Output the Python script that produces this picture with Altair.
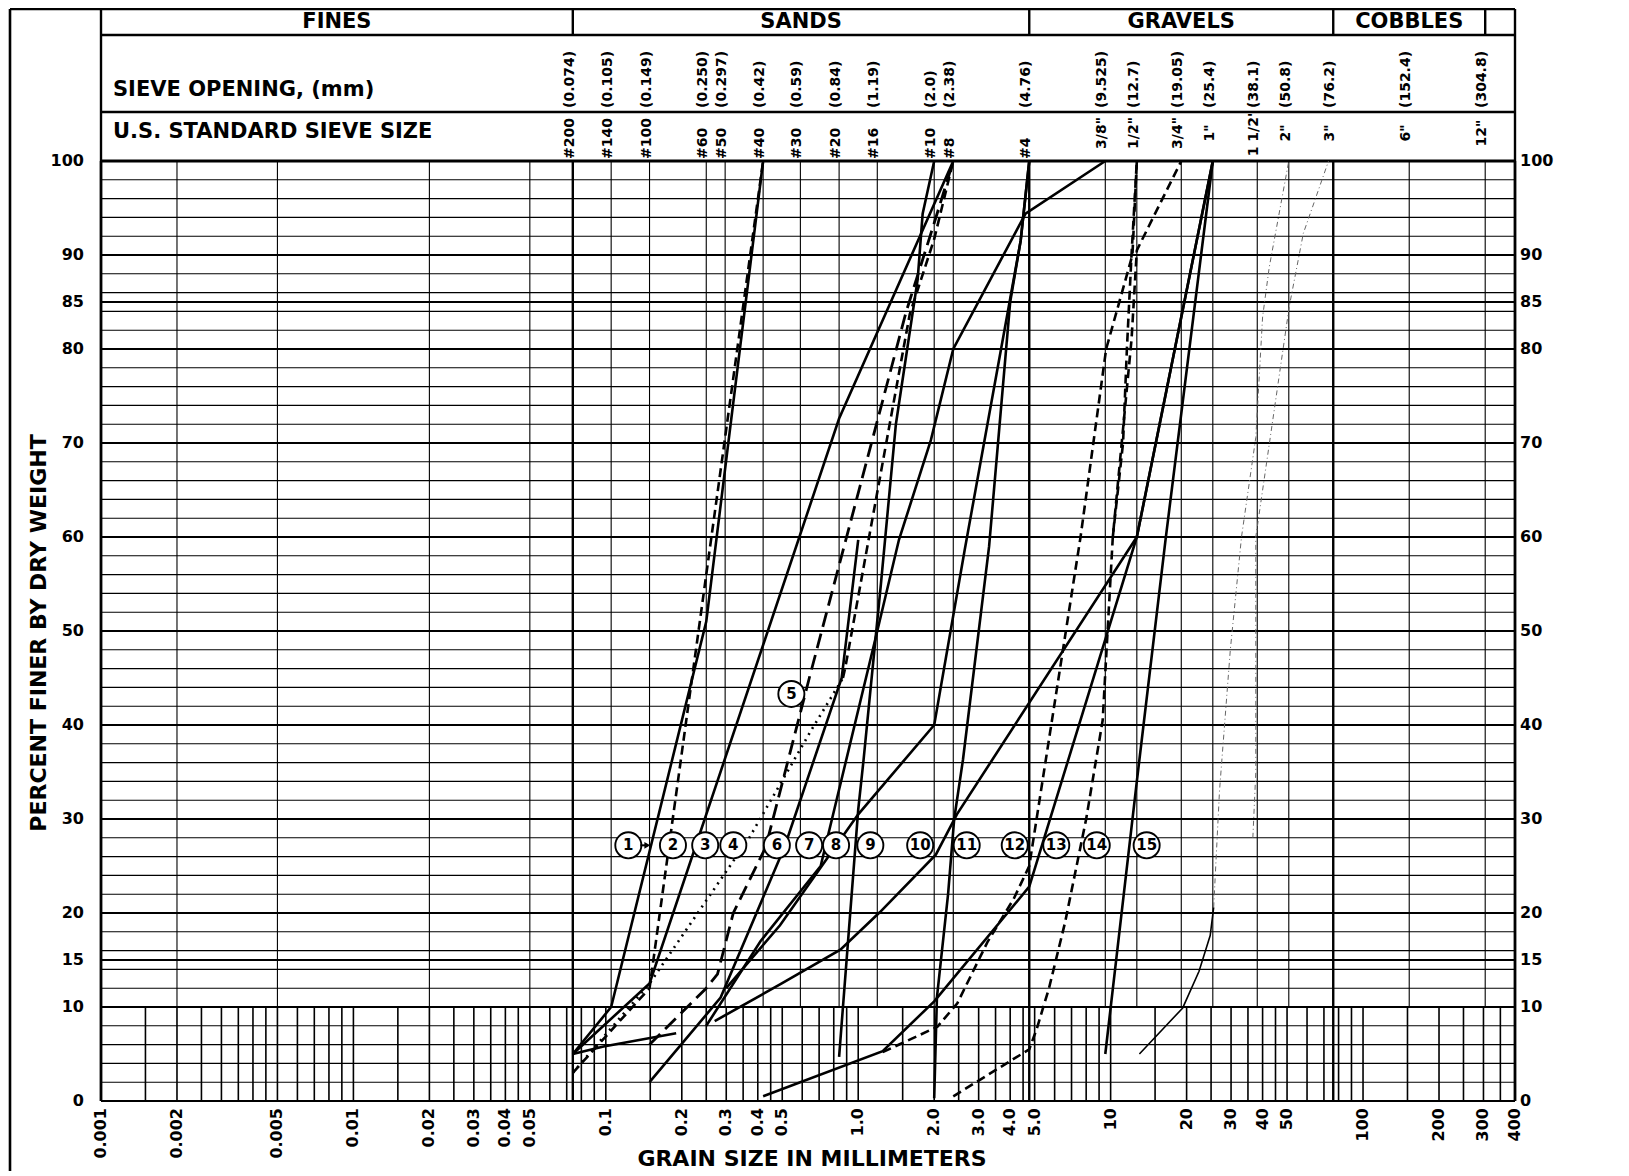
import altair as alt
import pandas as pd

W, H = 1414, 940

# ---------------- axis / header data ----------------
X_TICKS = [0.001, 0.002, 0.005, 0.01, 0.02, 0.03, 0.04, 0.05, 0.1, 0.2, 0.3, 0.4, 0.5,
           1, 2, 3, 4, 5, 10, 20, 30, 40, 50, 100, 200, 300, 400]
X_TICK_LABELS = ["0.001", "0.002", "0.005", "0.01", "0.02", "0.03", "0.04", "0.05",
                 "0.1", "0.2", "0.3", "0.4", "0.5", "1.0", "2.0", "3.0", "4.0", "5.0",
                 "10", "20", "30", "40", "50", "100", "200", "300", "400"]
Y_TICKS = [0, 10, 15, 20, 30, 40, 50, 60, 70, 80, 85, 90, 100]

SIEVE_MM = [0.074, 0.105, 0.149, 0.250, 0.297, 0.42, 0.59, 0.84, 1.19, 2.0, 2.38, 4.76,
            9.525, 12.7, 19.05, 25.4, 38.1, 50.8, 76.2, 152.4, 304.8]
SIEVE_OPENING_LABELS = ["(0.074)", "(0.105)", "(0.149)", "(0.250)", "(0.297)", "(0.42)",
                        "(0.59)", "(0.84)", "(1.19)", "(2.0)", "(2.38)", "(4.76)",
                        "(9.525)", "(12.7)", "(19.05)", "(25.4)", "(38.1)", "(50.8)",
                        "(76.2)", "(152.4)", "(304.8)"]
SIEVE_SIZE_LABELS = ["#200", "#140", "#100", "#60", "#50", "#40", "#30", "#20", "#16",
                     "#10", "#8", "#4", '3/8"', '1/2"', '3/4"', '1"', '1 1/2"', '2"',
                     '3"', '6"', '12"']

CLASS_NAMES = ["FINES", "SANDS", "GRAVELS", "COBBLES"]
CLASS_BOUNDS = [0.001, 0.074, 4.76, 76.2, 304.8, 400]
FINE_GRID_MM = [0.002, 0.005, 0.02, 0.05]
THICK_MM = [0.074, 4.76, 76.2]
LOG_STEPS = [1, 1.5, 2, 2.5, 3, 3.5, 4, 4.5, 5, 6, 7, 8, 9]

# ---------------- gradation curves (mm, percent finer) ----------------
curve_01 = [(0.074, 5), (0.105, 10), (0.25, 51), (0.42, 100)]
curve_01b = [(0.074, 5), (0.098, 5.8), (0.19, 7.2)]
curve_02 = [(0.074, 3), (0.149, 12), (0.25, 56), (0.42, 100)]
curve_03 = [(0.074, 5), (0.149, 12.5), (0.84, 72.6), (2.38, 100)]
curve_04 = [(0.074, 3), (0.149, 12.5), (0.37, 28), (0.65, 39.4), (0.87, 45)]
curve_04b = [(0.87, 45), (0.89, 46.2), (1.6, 83.7), (2.0, 91.7), (2.38, 100)]
curve_05 = [(0.149, 6), (0.25, 12), (0.277, 13.5), (0.32, 20), (0.43, 27), (0.64, 45),
            (1.55, 84), (2.0, 93.4), (2.38, 100)]
curve_06 = [(0.149, 2), (0.285, 11), (0.51, 27), (0.86, 45), (1.0, 59.7)]
curve_07 = [(0.25, 8), (0.41, 17), (0.71, 25), (1.19, 50), (1.45, 59.7), (1.94, 70.3),
            (2.38, 80), (4.6, 94.4), (9.525, 100)]
curve_08 = [(0.3, 12), (0.49, 18.7), (1.0, 30.5), (2.0, 40), (2.64, 58.6), (4.4, 91.5),
            (4.76, 100)]
curve_09 = [(0.84, 4.7), (1.0, 31), (1.05, 36.3), (1.23, 55), (1.41, 72), (1.72, 87.4),
            (1.8, 94.4), (2.0, 100)]
curve_10 = [(0.27, 8.5), (0.49, 12.4), (0.85, 16.1), (1.22, 20.1), (2.03, 26.2),
            (2.46, 30.5), (12.7, 60), (25.4, 100)]
curve_11 = [(2.0, 0.3), (2.05, 11), (2.27, 22), (2.4, 30), (2.6, 36.3), (3.3, 59),
            (4.0, 85), (4.4, 91.5), (4.76, 100)]
curve_12 = [(1.25, 5.2), (2.06, 7.9), (2.47, 10.4), (3.25, 16.9), (4.13, 21.5),
            (4.76, 25), (7.6, 60), (9.6, 80), (12.2, 90), (12.7, 100)]
curve_13 = [(0.42, 0.5), (1.25, 5.3), (2.0, 10.6), (4.76, 22.8), (12.7, 60), (25.4, 100)]
curve_14 = [(2.38, 0.5), (4.76, 5.5), (5.1, 7.7), (5.7, 12), (6.6, 19), (8.0, 30),
            (9.3, 40.5), (10.2, 60), (12.1, 81), (12.7, 90.5), (19.05, 100)]
curve_14b = [(10.2, 60), (11.2, 70), (11.6, 80), (12.1, 90), (12.7, 100)]
curve_15 = [(9.525, 5), (12.7, 34), (16.5, 59.7), (25.4, 100)]
faint_a0 = [(13, 5), (19.3, 9.9), (22.4, 13.8), (24.8, 17.6), (25.6, 20.6)]
faint_a = [(25.6, 20.6), (27, 33), (29.8, 48), (33, 60), (37.6, 70.6), (40, 83.4),
           (42.5, 88.7), (50.8, 100)]
faint_b = [(36.6, 28), (37.6, 35), (37.6, 60), (51, 84.5), (58, 92.3), (73, 100)]

PIECES = [
    ("c01", curve_01, "solid"), ("c01b", curve_01b, "solid"), ("c02", curve_02, "dash"),
    ("c03", curve_03, "solid"), ("c04", curve_04, "dot"), ("c04b", curve_04b, "dash"),
    ("c05", curve_05, "longdash"), ("c06", curve_06, "solid"), ("c07", curve_07, "solid"),
    ("c08", curve_08, "solid"), ("c09", curve_09, "solid"), ("c10", curve_10, "solid"),
    ("c11", curve_11, "solid"), ("c12", curve_12, "dash"), ("c13", curve_13, "solid"),
    ("c14", curve_14, "dash"), ("c14b", curve_14b, "dash"), ("c15", curve_15, "solid"),
    ("fa0", faint_a0, "thin"), ("fa", faint_a, "faint"), ("fb", faint_b, "faint"),
]

LABEL_TEXT = [str(i) for i in range(1, 16)]
LABEL_MM = [0.1228, 0.1845, 0.2476, 0.320, 0.5434, 0.476, 0.639, 0.817, 1.117, 1.76,
            2.69, 4.17, 6.09, 8.81, 13.89]
LABEL_PCT = [27.2, 27.2, 27.2, 27.2, 43.3, 27.2, 27.2, 27.2, 27.2, 27.2, 27.2, 27.2,
             27.2, 27.2, 27.2]
ARROW_MM = [0.137, 0.146]

FONT = "DejaVu Sans"

xs = alt.Scale(type="log", domain=[0.001, 400], nice=False)
ys = alt.Scale(domain=[0, 100], nice=False, zero=False)
X = lambda f: alt.X(f, scale=xs, axis=None)
Y = lambda f: alt.Y(f, scale=ys, axis=None)

TOP = -152   # top edge of the header table (px above the plot)

# ---------------- grid ----------------
h_rows = []
for p in range(0, 101, 2):
    h_rows.append(dict(p=p, w=2.2 if p % 10 == 0 else 1.1))
for p in (15, 85):
    h_rows.append(dict(p=p, w=1.9))
hgrid = pd.DataFrame(h_rows)
hgrid["lo"], hgrid["hi"] = 0.001, 400

v_rows = []
for mm in FINE_GRID_MM + SIEVE_MM:
    v_rows.append(dict(mm=mm, p0=10, p1=100, w=1.1))
for k in range(-3, 3):
    for m in LOG_STEPS:
        v = m * 10 ** k
        if v <= 400:
            v_rows.append(dict(mm=v, p0=0, p1=10, w=1.6))
for mm in THICK_MM:
    v_rows.append(dict(mm=mm, p0=0, p1=100, w=2.4))
for mm in (0.001, 400):
    v_rows.append(dict(mm=mm, p0=0, p1=100, w=2.8))
vgrid = pd.DataFrame(v_rows)

hgrid_layer = alt.Chart(hgrid).mark_rule(color="black").encode(
    x=X("lo:Q"), x2="hi:Q", y=Y("p:Q"),
    strokeWidth=alt.StrokeWidth("w:Q", scale=None))
vgrid_layer = alt.Chart(vgrid).mark_rule(color="black").encode(
    x=X("mm:Q"), y=Y("p0:Q"), y2="p1:Q",
    strokeWidth=alt.StrokeWidth("w:Q", scale=None))

# ---------------- header frame ----------------
hdr_h = pd.DataFrame({"lo": [0.001, 0.001, 0.001], "hi": [400, 400, 400],
                      "ypx": [-126, -49, 0], "w": [2.4, 2.4, 2.8]})
hdr_h_layer = alt.Chart(hdr_h).mark_rule(color="black").encode(
    x=X("lo:Q"), x2="hi:Q", y=alt.Y("ypx:Q", scale=None),
    strokeWidth=alt.StrokeWidth("w:Q", scale=None))
hdr_v = pd.DataFrame({"mm": CLASS_BOUNDS,
                      "y0": [TOP] * 6,
                      "y1": [0, -126, -126, -126, -126, 0]})
hdr_v_layer = alt.Chart(hdr_v).mark_rule(color="black", strokeWidth=2.4).encode(
    x=X("mm:Q"), y=alt.Y("y0:Q", scale=None), y2="y1:Q")
frame_df = pd.DataFrame({"k": [0]})
top_border = alt.Chart(frame_df).mark_rule(color="black", strokeWidth=2.6).encode(
    x=alt.value(-91), x2=alt.value(W), y=alt.value(TOP))
left_border = alt.Chart(frame_df).mark_rule(color="black", strokeWidth=2.6).encode(
    x=alt.value(-91), y=alt.value(TOP), y2=alt.value(1010))

centers = [(CLASS_BOUNDS[i] * CLASS_BOUNDS[i + 1]) ** 0.5 for i in range(4)]
class_df = pd.DataFrame({"mm": centers, "t": CLASS_NAMES})
class_layer = alt.Chart(class_df).mark_text(
    font=FONT, fontSize=21, fontWeight="bold", baseline="middle", align="center").encode(
    x=X("mm:Q"), y=alt.value(-139), text="t:N")

row_df = pd.DataFrame({"t": ["SIEVE  OPENING,  (mm)", "U.S.  STANDARD  SIEVE  SIZE"],
                       "ypx": [-71, -29]})
row_layer = alt.Chart(row_df).mark_text(
    font=FONT, fontSize=21, fontWeight="bold", baseline="middle", align="left").encode(
    x=alt.value(12), y=alt.Y("ypx:Q", scale=None), text="t:N")

open_df = pd.DataFrame({"mm": SIEVE_MM, "t": SIEVE_OPENING_LABELS})
open_layer = alt.Chart(open_df).mark_text(
    font=FONT, fontSize=14, fontWeight="bold", angle=270, align="left",
    baseline="middle", dy=-3).encode(x=X("mm:Q"), y=alt.value(-53), text="t:N")

size_df = pd.DataFrame({"mm": SIEVE_MM, "t": SIEVE_SIZE_LABELS})
size_hash = alt.Chart(size_df).transform_filter(
    "indexof(datum.t, '#') == 0").mark_text(
    font=FONT, fontSize=14, fontWeight="bold", angle=270, align="left",
    baseline="middle", dy=-3).encode(x=X("mm:Q"), y=alt.value(-2), text="t:N")
size_inch = alt.Chart(size_df).transform_filter(
    "indexof(datum.t, '#') != 0").mark_text(
    font=FONT, fontSize=14, fontWeight="bold", angle=270, align="center",
    baseline="middle", dy=-3).encode(x=X("mm:Q"), y=alt.value(-28), text="t:N")

# ---------------- axis labels and titles ----------------
ytick_df = pd.DataFrame({"p": Y_TICKS, "t": [str(v) for v in Y_TICKS]})
ylab_left = alt.Chart(ytick_df).mark_text(
    font=FONT, fontSize=16, fontWeight="bold", align="right", baseline="middle").encode(
    x=alt.value(-17), y=Y("p:Q"), text="t:N")
ylab_right = alt.Chart(ytick_df).mark_text(
    font=FONT, fontSize=16, fontWeight="bold", align="left", baseline="middle").encode(
    x=alt.value(W + 5), y=Y("p:Q"), text="t:N")
xtick_df = pd.DataFrame({"mm": X_TICKS, "t": X_TICK_LABELS})
xlab = alt.Chart(xtick_df).mark_text(
    font=FONT, fontSize=16, fontWeight="bold", angle=270, align="right",
    baseline="middle").encode(x=X("mm:Q"), y=alt.value(H + 7), text="t:N")

ytitle = alt.Chart(pd.DataFrame({"t": ["PERCENT  FINER  BY  DRY  WEIGHT"]})).mark_text(
    font=FONT, fontSize=22, fontWeight="bold", angle=270, align="center",
    baseline="middle").encode(x=alt.value(-62), y=alt.value(472), text="t:N")
xtitle = alt.Chart(pd.DataFrame({"t": ["GRAIN  SIZE  IN  MILLIMETERS"]})).mark_text(
    font=FONT, fontSize=22, fontWeight="bold", align="center",
    baseline="middle").encode(x=alt.value(711), y=alt.value(H + 58), text="t:N")

# ---------------- curves ----------------
rows = []
for name, pts, style in PIECES:
    for i, (mm, pct) in enumerate(pts):
        rows.append(dict(piece=name, i=i, mm=mm, pct=pct, style=style))
curves = pd.DataFrame(rows)

STYLES = {
    "solid": dict(strokeWidth=2.6, color="black"),
    "dash": dict(strokeWidth=2.6, color="black", strokeDash=[9, 5]),
    "longdash": dict(strokeWidth=2.8, color="black", strokeDash=[15, 7]),
    "dot": dict(strokeWidth=2.6, color="black", strokeDash=[2, 5]),
    "thin": dict(strokeWidth=1.6, color="black"),
    "faint": dict(strokeWidth=1.0, color="#666666", strokeDash=[5, 3, 1, 3]),
}
curve_layers = []
for style, kw in STYLES.items():
    curve_layers.append(
        alt.Chart(curves).transform_filter(alt.datum.style == style)
        .mark_line(strokeCap="butt", **kw)
        .encode(x=X("mm:Q"), y=Y("pct:Q"), detail="piece:N", order="i:Q"))

# ---------------- curve number labels ----------------
lab_df = pd.DataFrame({"mm": LABEL_MM, "p": LABEL_PCT, "t": LABEL_TEXT})
lab_circle = alt.Chart(lab_df).mark_point(
    shape="circle", size=680, filled=False, fill="white", fillOpacity=1,
    stroke="black", strokeWidth=1.9, opacity=1).encode(x=X("mm:Q"), y=Y("p:Q"))
lab_text = alt.Chart(lab_df).mark_text(
    font=FONT, fontSize=15, fontWeight="bold", align="center", baseline="middle").encode(
    x=X("mm:Q"), y=Y("p:Q"), text="t:N")
arrow_df = pd.DataFrame({"a": [ARROW_MM[0]], "b": [ARROW_MM[1]], "p": [27.2]})
arrow_line = alt.Chart(arrow_df).mark_rule(color="black", strokeWidth=2).encode(
    x=X("a:Q"), x2="b:Q", y=Y("p:Q"))
arrow_head = alt.Chart(arrow_df).mark_point(
    shape="triangle-right", size=45, filled=True, color="black", opacity=1).encode(
    x=X("b:Q"), y=Y("p:Q"))

chart = alt.layer(
    hgrid_layer, vgrid_layer, hdr_h_layer, hdr_v_layer, top_border, left_border,
    class_layer, row_layer, open_layer, size_hash, size_inch,
    ylab_left, ylab_right, xlab, ytitle, xtitle,
    *curve_layers, lab_circle, lab_text, arrow_line, arrow_head,
).properties(
    width=W, height=H,
    autosize=alt.AutoSizeParams(type="none"),
    padding={"left": 93, "top": 153, "right": 105, "bottom": 70},
    background="white",
).configure_view(stroke=None)

chart.save("out.html", embed_options={"renderer": "svg", "actions": False})
